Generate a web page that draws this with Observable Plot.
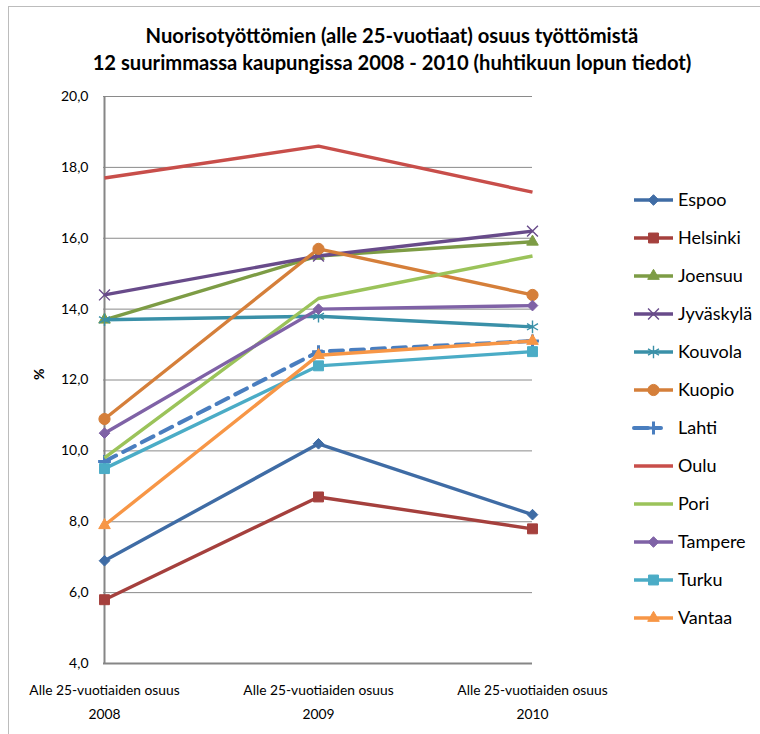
<!DOCTYPE html>
<html>
<head>
<meta charset="utf-8">
<script src="https://cdn.jsdelivr.net/npm/d3@7"></script>
<script src="https://cdn.jsdelivr.net/npm/@observablehq/plot@0.6"></script>
<style>
  html, body { margin: 0; padding: 0; background: #fff; }
  #wrap { position: relative; width: 760px; height: 734px; overflow: hidden; background: #fff;
          font-family: Lato, "Liberation Sans", sans-serif; }
  #border { position: absolute; left: 8px; top: 6px; width: 800px; height: 800px; border: 1px solid #bcbcbc; }
  #title { position: absolute; left: 0; width: 784px; top: 22px; text-align: center; font-weight: bold;
           font-size: 20.2px; line-height: 27px; color: #000; }
  #chart { position: absolute; left: 0; top: 0; }
  #legend { position: absolute; left: 0; top: 0; }
</style>
</head>
<body>
<div id="wrap">
  <div id="border"></div>
  <div id="chart"></div>
  <svg id="legend" width="760" height="734"></svg>
  <div id="title">Nuorisotyöttömien (alle 25-vuotiaat) osuus työttömistä<br>12 suurimmassa kaupungissa 2008 - 2010 (huhtikuun lopun tiedot)</div>
</div>
<script>
// ---- data ----
const years = ["2008", "2009", "2010"];
const cities = ["Espoo", "Helsinki", "Joensuu", "Jyväskylä", "Kouvola", "Kuopio", "Lahti", "Oulu", "Pori", "Tampere", "Turku", "Vantaa"];
const espoo     = [6.9, 10.2, 8.2];
const helsinki  = [5.8, 8.7, 7.8];
const joensuu   = [13.7, 15.5, 15.9];
const jyvaskyla = [14.4, 15.5, 16.2];
const kouvola   = [13.7, 13.8, 13.5];
const kuopio    = [10.9, 15.7, 14.4];
const lahti     = [9.7, 12.8, 13.1];
const oulu      = [17.7, 18.6, 17.3];
const pori      = [9.8, 14.3, 15.5];
const tampere   = [10.5, 14.0, 14.1];
const turku     = [9.5, 12.4, 12.8];
const vantaa    = [7.9, 12.7, 13.1];
const yTicks = [4, 6, 8, 10, 12, 14, 16, 18, 20];
const xLabelPrefix = "Alle 25-vuotiaiden osuus";

const seriesValues = [espoo, helsinki, joensuu, jyvaskyla, kouvola, kuopio, lahti, oulu, pori, tampere, turku, vantaa];

// ---- styles ----
const colors  = ["#3F6CA5", "#A5403D", "#7D9C45", "#684B8A", "#3A90A8", "#D57F3A",
                 "#4A7EBF", "#C84E4A", "#9BC35A", "#7F62A6", "#4BACC6", "#F79646"];
const markers = ["diamond2", "square", "triangle", "times", "asterisk", "circle",
                 "plus", null, null, "diamond2", "square", "triangle"];
const markerR = {diamond2: 4.8, square: 5.6, triangle: 4.3, times: 5, asterisk: 6, circle: 5.6, plus: 4.2};
const strokeMarkers = new Set(["times", "asterisk", "plus"]);
const dashOf = c => c === "Lahti" ? "13,8" : null;

const rows = [];
cities.forEach((c, i) => years.forEach((y, j) => rows.push({city: c, year: y, value: seriesValues[i][j]})));

const fmt = d => d.toFixed(1).replace(".", ",");
const FONT = "Lato, 'Liberation Sans', sans-serif";
const LW = 3.4;

const seriesMarks = cities.flatMap((c, i) => {
  const m = [Plot.line(rows, {filter: d => d.city === c, x: "year", y: "value", stroke: colors[i],
             strokeWidth: c === "Lahti" ? 4 : LW, strokeDasharray: dashOf(c), strokeLinecap: c === "Lahti" ? "round" : "butt"})];
  const s = markers[i];
  if (s) {
    const isStroke = strokeMarkers.has(s);
    m.push(Plot.dot(rows, {filter: d => d.city === c, x: "year", y: "value", symbol: () => s, r: markerR[s],
      fill: isStroke ? "none" : colors[i], stroke: colors[i], strokeWidth: isStroke ? (s === "plus" ? 3 : 1.4) : 1}));
  }
  return m;
});

const chart = Plot.plot({
  width: 760,
  height: 734,
  marginLeft: 103,
  marginRight: 228,
  marginTop: 96,
  marginBottom: 71,
  style: {fontFamily: FONT, fontSize: "13px", color: "#000", background: "transparent"},
  x: {type: "point", domain: years, padding: 0},
  y: {domain: [4, 20]},
  symbol: {type: "identity"},
  marks: [
    Plot.gridY(yTicks, {stroke: "#8a8a8a", strokeOpacity: 1, strokeWidth: 1}),
    Plot.axisY(yTicks, {tickSize: 0, tickPadding: 15, tickFormat: fmt, fontSize: 14, label: null}),
    Plot.axisX(years, {tickSize: 0, tickPadding: 15, tickFormat: d => xLabelPrefix + "\n" + d, lineHeight: 1.7, fontSize: 13.8, label: null}),
    Plot.text(["%"], {frameAnchor: "left", dx: -64, rotate: -90, fontWeight: "bold", fontSize: 14}),
    Plot.ruleY([4], {stroke: "#868686", strokeWidth: 2}),
    Plot.ruleX([years[0]], {stroke: "#868686", strokeWidth: 2}),
    ...seriesMarks
  ]
});
document.getElementById("chart").appendChild(chart);

// ---- legend ----
const symMap = {diamond2: d3.symbolDiamond2, square: d3.symbolSquare, triangle: d3.symbolTriangle,
                times: d3.symbolTimes, asterisk: d3.symbolAsterisk, circle: d3.symbolCircle, plus: d3.symbolPlus};
const leg = d3.select("#legend");
cities.forEach((c, i) => {
  const g = leg.append("g").attr("transform", `translate(0,${200 + 38 * i})`);
  g.append("line").attr("x1", 634).attr("x2", 673).attr("y1", 0).attr("y2", 0)
    .attr("stroke", colors[i]).attr("stroke-width", c === "Lahti" ? 4 : LW)
    .attr("stroke-dasharray", c === "Lahti" ? "14,7,6,20" : null)
    .attr("stroke-linecap", c === "Lahti" ? "round" : "butt");
  const s = markers[i];
  if (s) {
    const r = markerR[s];
    const isStroke = strokeMarkers.has(s);
    g.append("path").attr("transform", "translate(653.5,0)")
      .attr("d", d3.symbol(symMap[s], Math.PI * r * r)())
      .attr("fill", isStroke ? "none" : colors[i]).attr("stroke", colors[i])
      .attr("stroke-width", isStroke ? (s === "plus" ? 3 : 1.4) : 1);
  }
  g.append("text").attr("x", 678).attr("y", 0).attr("dy", "0.35em")
    .attr("font-family", FONT).attr("font-size", 18).attr("fill", "#000").text(c);
});
</script>
</body>
</html>
